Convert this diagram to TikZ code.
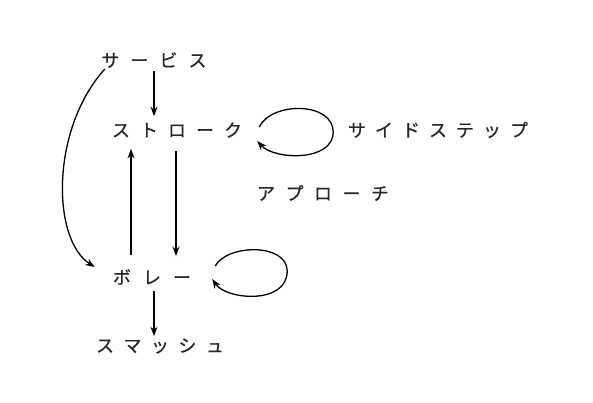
\documentclass[tikz,border=0pt]{standalone}
\usepackage{fontspec}
\newfontfamily\jpfont[FakeBold=0.5]{Noto Sans CJK JP}
\usetikzlibrary{arrows.meta,calc}
\makeatletter
\newcommand\lsp[2][10pt]{\def\lsp@first{1}\@tfor\lsp@c:=#2\do{\ifx\lsp@first\empty\hspace{#1}\fi\lsp@c\let\lsp@first\empty}}
\makeatother
\tikzset{
  lbl/.style={inner sep=0pt, text=black!85, font=\jpfont\fontsize{18pt}{18pt}\selectfont},
  arr/.style={line width=1.3pt, -{Stealth[length=9.5pt,width=7pt]}},
  loopline/.style={line width=1.3pt, -{Stealth[length=9.5pt,width=7pt]}}
}
\begin{document}
\begin{tikzpicture}[x=1pt,y=-1pt]
\useasboundingbox[fill=white] (0,0) rectangle (593,403);
\node[lbl] (service) at (154,60) {\lsp[11pt]{サービス}};
\node[lbl] (stroke) at (177,130) {\lsp[10pt]{ストローク}};
\node[lbl] (side) at (438,130) {\lsp[9pt]{サイドステップ}};
\node[lbl] (approach) at (323,193) {\lsp[10.5pt]{アプローチ}};
\node[lbl] (volley) at (152,277) {\lsp[12pt]{ボレー}};
\node[lbl] (smash) at (160,346) {\lsp[9.5pt]{スマッシュ}};
% straight arrows
\draw[arr, shorten <=3pt, shorten >=6pt] (service.south) -- (service.south |- stroke.north);
\draw[arr, shorten <=14pt, shorten >=11pt] ([xshift=-21pt]volley.north) -- ([xshift=-21pt]volley.north |- stroke.south);
\draw[arr, shorten <=13pt, shorten >=13pt] ([xshift=-1pt]stroke.south) -- ([xshift=-1pt]stroke.south |- volley.north);
\draw[arr, shorten <=6pt, shorten >=2pt] ([xshift=2pt]volley.south) -- ([xshift=2pt]volley.south |- smash.north);
% curved arrow service -> volley
\coordinate (cs) at ([xshift=3.5pt,yshift=-9pt]service.west);
\coordinate (ce) at ([xshift=-18pt,yshift=10pt]volley.west);
\draw[arr] (cs) .. controls (50,130) and (52,240) .. (ce);
% loop at stroke
\coordinate (ss) at ([xshift=17pt,yshift=3pt]stroke.east);
\coordinate (sr) at ([xshift=91pt,yshift=-2pt]stroke.east);
\coordinate (se) at ([xshift=15pt,yshift=-11pt]stroke.east);
\draw[loopline] (ss) .. controls +(13,-26) and +(0,-30) .. (sr) .. controls +(0,30) and +(17,19) .. (se);
% loop at volley
\coordinate (vs) at ([xshift=24pt,yshift=11pt]volley.east);
\coordinate (vr) at ([xshift=96pt,yshift=6pt]volley.east);
\coordinate (ve) at ([xshift=21pt,yshift=-2pt]volley.east);
\draw[loopline] (vs) .. controls +(12,-22) and +(0,-28) .. (vr) .. controls +(0,34) and +(14,21) .. (ve);
\end{tikzpicture}
\end{document}
